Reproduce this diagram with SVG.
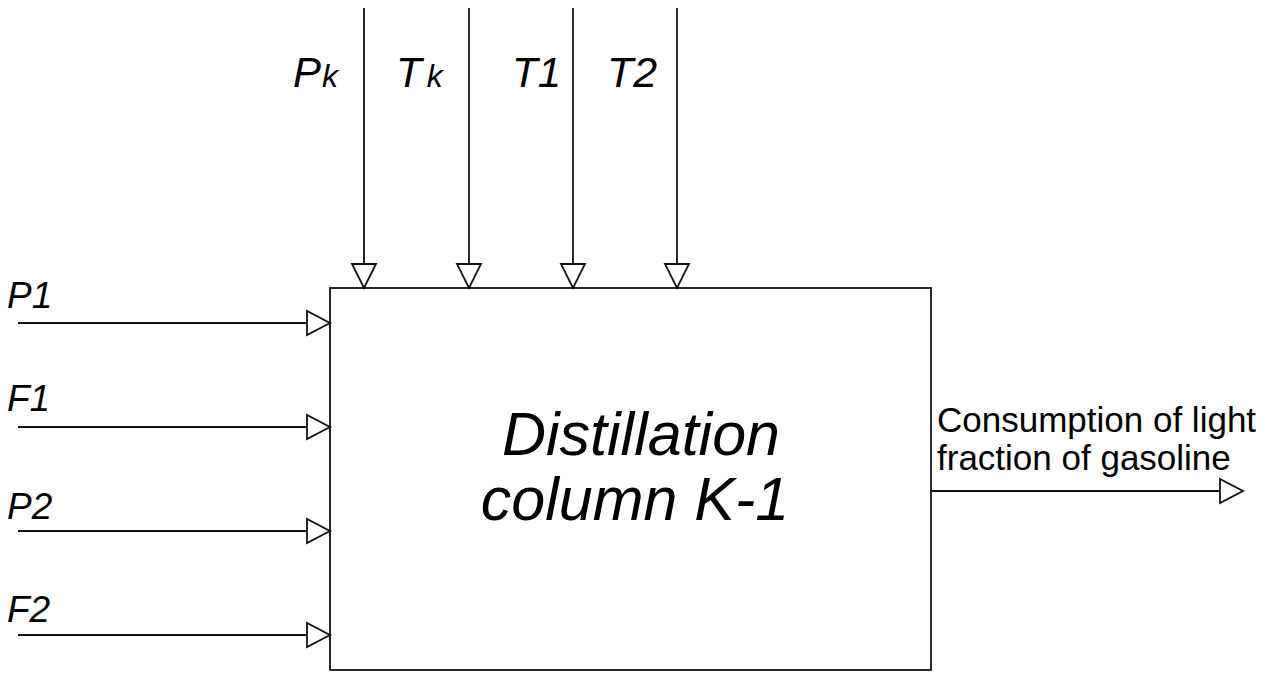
<svg xmlns="http://www.w3.org/2000/svg" width="1279" height="673" viewBox="0 0 1279 673">
<style>
.ln{stroke:#111;stroke-width:1.8;fill:none}
.ah{stroke:#111;stroke-width:1.8;fill:#fff;stroke-linejoin:miter}
.lbl{font-family:"Liberation Sans",Arial,sans-serif;font-style:italic;fill:#000}
.out{font-family:"Liberation Sans",Arial,sans-serif;fill:#000;font-size:35px}
</style>
<rect width="1279" height="673" fill="#fff"/>
<g id="connectors">
  <line class="ln" x1="364" y1="8" x2="364" y2="264"/>
  <line class="ln" x1="469" y1="8" x2="469" y2="264"/>
  <line class="ln" x1="573" y1="8" x2="573" y2="264"/>
  <line class="ln" x1="677" y1="8" x2="677" y2="264"/>
  <polygon class="ah" points="352,264 376,264 364,288"/>
  <polygon class="ah" points="457,264 481,264 469,288"/>
  <polygon class="ah" points="561,264 585,264 573,288"/>
  <polygon class="ah" points="665,264 689,264 677,288"/>
  <line class="ln" x1="18" y1="323" x2="307" y2="323"/>
  <line class="ln" x1="18" y1="427" x2="307" y2="427"/>
  <line class="ln" x1="18" y1="531" x2="307" y2="531"/>
  <line class="ln" x1="18" y1="635" x2="307" y2="635"/>
  <polygon class="ah" points="307,311 307,335 330,323"/>
  <polygon class="ah" points="307,415 307,439 330,427"/>
  <polygon class="ah" points="307,519 307,543 330,531"/>
  <polygon class="ah" points="307,623 307,647 330,635"/>
  <line class="ln" x1="931" y1="491" x2="1220" y2="491"/>
  <polygon class="ah" points="1220,479 1220,503 1243,491"/>
</g>
<g id="node-k1">
  <rect class="ln" x="330" y="288" width="601" height="382"/>
  <text class="lbl" x="641" y="455" font-size="61" text-anchor="middle">Distillation</text>
  <text class="lbl" x="635" y="520" font-size="61" text-anchor="middle">column K-1</text>
</g>
<g id="labels-top">
  <text class="lbl" x="293" y="87" font-size="42">P<tspan font-size="32" dx="1">k</tspan></text>
  <text class="lbl" x="396" y="87" font-size="42">T<tspan font-size="32" dx="5">k</tspan></text>
  <text class="lbl" x="512" y="87" font-size="42">T1</text>
  <text class="lbl" x="607" y="87" font-size="43">T2</text>
</g>
<g id="labels-left">
  <text class="lbl" x="7" y="308" font-size="37">P1</text>
  <text class="lbl" x="7" y="411" font-size="37">F1</text>
  <text class="lbl" x="7" y="519" font-size="37">P2</text>
  <text class="lbl" x="7" y="622" font-size="37">F2</text>
</g>
<g id="label-output">
  <text class="out" x="937" y="432">Consumption of light</text>
  <text class="out" x="937" y="470">fraction of gasoline</text>
</g>
</svg>
